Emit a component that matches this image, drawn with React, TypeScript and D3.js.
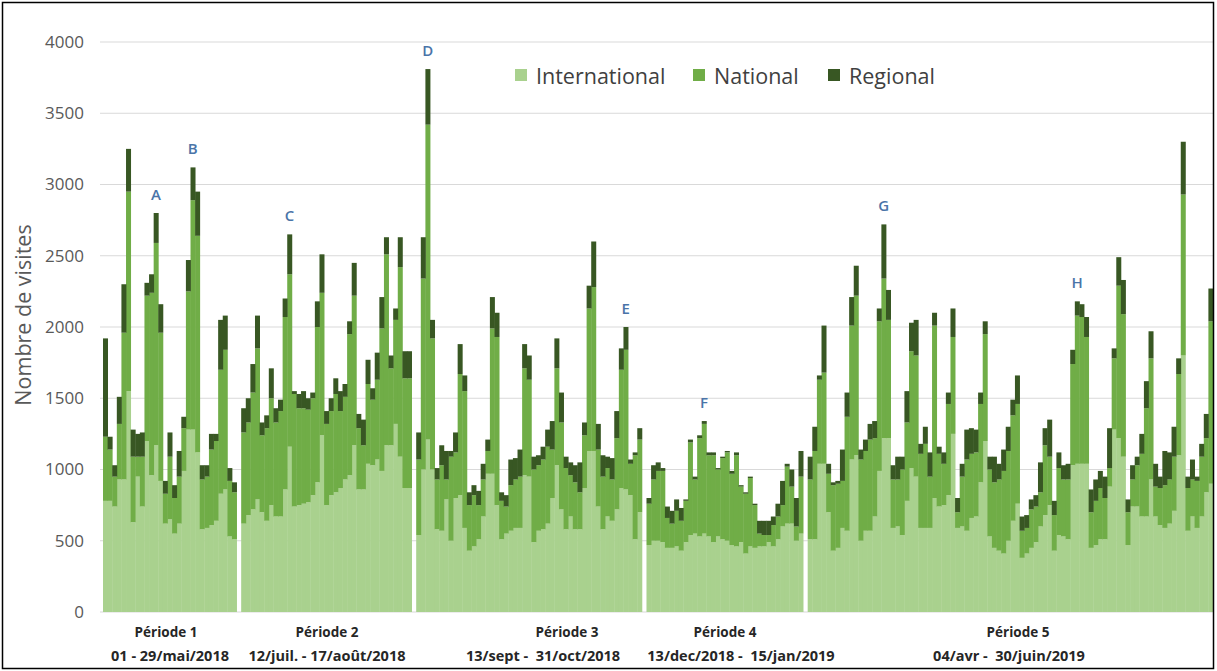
import React from "react";
import * as d3 from "d3";

interface DayRow {
  key: string;
  International: number;
  National: number;
  Regional: number;
}

const seriesNames = ["International", "National", "Regional"];
const seriesColors = ["#a9d18e", "#70ad47", "#385723"];

const periodNames = ["Période 1", "Période 2", "Période 3", "Période 4", "Période 5"];
const periodDates = [
  "01 - 29/mai/2018",
  "12/juil. - 17/août/2018",
  "13/sept -  31/oct/2018",
  "13/dec/2018 -  15/jan/2019",
  "04/avr -  30/juin/2019",
];

const yTicks = [0, 500, 1000, 1500, 2000, 2500, 3000, 3500, 4000];

// one sub-array per period, one value per day
const international = [
  [780, 780, 740, 930, 930, 1550, 630, 950, 740, 1200, 960, 1170, 920, 620, 650, 550, 620, 990, 1280, 1280, 1120, 580, 590, 610, 640, 830, 860, 530, 510],
  [620, 680, 720, 790, 700, 640, 750, 670, 670, 860, 1160, 740, 750, 760, 770, 820, 910, 1240, 750, 820, 840, 870, 930, 960, 1170, 860, 860, 1040, 1030, 1070, 990, 1170, 1170, 1320, 1090, 870, 870],
  [540, 1000, 1210, 1000, 580, 570, 790, 500, 800, 820, 590, 430, 460, 510, 670, 970, 970, 750, 510, 550, 570, 590, 590, 960, 950, 490, 570, 580, 620, 800, 1030, 720, 580, 670, 580, 580, 870, 1130, 1130, 740, 580, 670, 640, 720, 870, 860, 820, 510, 700],
  [470, 500, 500, 490, 450, 450, 460, 430, 490, 540, 550, 530, 550, 530, 490, 530, 510, 500, 470, 460, 490, 410, 460, 450, 460, 460, 490, 460, 510, 600, 620, 620, 500, 550],
  [510, 510, 1040, 1040, 700, 430, 450, 590, 570, 1070, 1100, 500, 570, 570, 670, 990, 1220, 1220, 590, 600,
   540, 780, 1010, 950, 590, 590, 590, 800, 740, 750, 820, 1250, 590, 600, 570, 660, 670, 910, 1200, 530,
   450, 430, 410, 500, 640, 760, 380, 410, 450, 490, 600, 680, 750, 430, 540, 530, 510, 1030, 1040, 1040,
   1040, 450, 470, 510, 510, 880, 1280, 1220, 1090, 470, 740, 740, 670, 670, 930, 670, 610, 590, 620, 710,
   1100, 1800, 570, 670, 590, 670, 840, 900],
];

const national = [
  [450, 360, 210, 390, 1030, 1400, 460, 140, 350, 1020, 1280, 1420, 1040, 210, 440, 250, 330, 300, 970, 1610, 1520, 350, 360, 530, 560, 870, 980, 390, 330],
  [640, 650, 820, 1060, 540, 650, 750, 660, 740, 1210, 1210, 790, 680, 670, 650, 680, 1090, 1000, 570, 590, 690, 540, 580, 990, 1050, 430, 310, 560, 460, 560, 1000, 1340, 540, 730, 1330, 770, 770],
  [530, 1340, 2210, 920, 350, 460, 140, 590, 320, 850, 960, 320, 360, 240, 260, 160, 1020, 1180, 270, 190, 320, 340, 360, 750, 680, 510, 460, 490, 540, 340, 680, 610, 430, 290, 330, 260, 370, 1000, 1150, 400, 370, 340, 290, 500, 830, 980, 220, 590, 510],
  [290, 430, 490, 500, 210, 170, 250, 210, 290, 650, 380, 690, 770, 570, 610, 470, 570, 620, 500, 640, 390, 420, 480, 300, 90, 80, 50, 150, 160, 150, 400, 260, 100, 400],
  [420, 620, 590, 640, 270, 460, 450, 330, 800, 940, 1120, 570, 560, 640, 550, 1050, 1120, 830, 340, 330,
   460, 550, 820, 850, 520, 590, 360, 1210, 370, 290, 640, 680, 110, 350, 500, 450, 450, 550, 750, 470,
   460, 500, 580, 630, 740, 700, 190, 180, 270, 250, 240, 490, 340, 250, 470, 400, 420, 710, 1040, 1030,
   890, 250, 310, 360, 290, 130, 500, 1070, 1000, 230, 190, 290, 440, 760, 850, 210, 260, 300, 310, 380,
   570, 1130, 300, 260, 330, 420, 380, 1140],
];

const regional = [
  [690, 90, 80, 190, 340, 300, 190, 160, 170, 90, 130, 210, 200, 90, 170, 90, 180, 80, 220, 230, 310, 100, 80, 110, 50, 350, 240, 90, 70],
  [170, 170, 200, 230, 90, 90, 210, 100, 80, 130, 280, 20, 100, 120, 80, 40, 180, 270, 90, 90, 110, 140, 90, 90, 230, 100, 180, 170, 80, 190, 220, 120, 90, 80, 210, 190, 190],
  [190, 290, 390, 130, 80, 140, 200, 40, 140, 210, 110, 90, 70, 100, 110, 80, 220, 170, 60, 80, 180, 150, 190, 170, 170, 90, 70, 90, 120, 200, 210, 210, 80, 90, 120, 210, 90, 160, 320, 180, 150, 80, 150, 190, 150, 160, 30, 20, 80],
  [40, 100, 60, 20, 80, 90, 80, 90, 10, 20, 20, 20, 20, 20, 20, 10, 10, 10, 20, 20, 10, 10, 10, 10, 90, 100, 100, 60, 90, 170, 20, 120, 200, 180],
  [160, 170, 30, 330, 70, 20, 20, 220, 170, 200, 210, 70, 80, 110, 120, 90, 380, 210, 100, 160,
   90, 220, 200, 250, 70, 120, 170, 90, 50, 80, 80, 200, 100, 90, 210, 180, 160, 80, 90, 90,
   180, 110, 150, 170, 110, 200, 100, 90, 70, 80, 210, 120, 260, 100, 110, 100, 110, 100, 100, 90,
   140, 160, 150, 120, 150, 280, 70, 200, 240, 90, 100, 60, 140, 190, 190, 160, 80, 240, 190, 210,
   110, 370, 80, 140, 30, 90, 170, 230],
];

// annotated peaks: letter, period index, day index
const markLetters = ["A", "B", "C", "D", "E", "F", "G", "H"];
const markPeriods = [0, 0, 1, 2, 2, 3, 4, 4];
const markDays = [11, 19, 10, 2, 45, 12, 16, 58];

const W = 1217;
const H = 671;
const FONT = "'Open Sans', 'DejaVu Sans', sans-serif";

export default function App() {
  const rows: DayRow[] = [];
  const slots: string[] = [];
  international.forEach((arr, p) => {
    if (p > 0) slots.push(`gap${p}`);
    arr.forEach((v, d) => {
      const key = `${p}-${d}`;
      slots.push(key);
      rows.push({ key, International: v, National: national[p][d], Regional: regional[p][d] });
    });
  });

  const x = d3.scaleBand<string>().domain(slots).range([103, 1213]).padding(0);
  const y = d3.scaleLinear().domain([0, 4000]).range([612, 42]);
  const bw = x.bandwidth();

  const stacked = d3.stack<DayRow>().keys(seriesNames)(rows);

  // label centres (the labels in the original aren't exactly centred on each period)
  const nameX = [166, 327, 567, 725, 1018];
  const dateX = [170, 327, 543, 741, 1009];
  const legendX = [515, 693, 828];

  return (
    <svg width={W} height={H} style={{ position: "absolute", left: 0, top: 0, background: "#fff" }}>
      <rect x={0} y={0} width={W} height={H} fill="#fff" />
      {yTicks.map((t) => (
        <g key={t}>
          <line x1={100} x2={1213} y1={y(t)} y2={y(t)} stroke="#d9d9d9" strokeWidth={1} />
          <text x={84} y={y(t)} dy="0.35em" textAnchor="end" fontFamily={FONT} fontSize={17} fill="#595959">
            {t}
          </text>
        </g>
      ))}
      <text
        transform={`translate(31,315) rotate(-90)`}
        textAnchor="middle"
        fontFamily={FONT}
        fontSize={21.5}
        fill="#595959"
      >
        Nombre de visites
      </text>

      {stacked.map((layer, i) => (
        <g key={layer.key} fill={seriesColors[i]}>
          {layer.map((d) => (
            <rect
              key={d.data.key}
              x={x(d.data.key)}
              y={y(d[1])}
              width={bw + 0.4}
              height={Math.max(0, y(d[0]) - y(d[1]))}
            />
          ))}
        </g>
      ))}

      {markLetters.map((m, i) => {
        const key = `${markPeriods[i]}-${markDays[i]}`;
        const row = rows.find((r) => r.key === key)!;
        const total = row.International + row.National + row.Regional;
        return (
          <text
            key={m}
            x={(x(key) ?? 0) + bw / 2}
            y={y(total) - 13}
            textAnchor="middle"
            fontFamily={FONT}
            fontSize={15}
            fontWeight={600}
            fill="#4a74a8"
          >
            {m}
          </text>
        );
      })}

      {seriesNames.map((s, i) => (
        <g key={s}>
          <rect x={legendX[i]} y={69} width={12} height={12} fill={seriesColors[i]} />
          <text x={legendX[i] + 21} y={84} fontFamily={FONT} fontSize={21.5} fill="#404040">
            {s}
          </text>
        </g>
      ))}

      {periodNames.map((n, i) => (
        <g key={n} fontFamily={FONT} fontWeight={700} fill="#262626" textAnchor="middle">
          <text x={nameX[i]} y={637} fontSize={13.5}>{n}</text>
          <text x={dateX[i]} y={661} fontSize={14.5} xmlSpace="preserve">{periodDates[i]}</text>
        </g>
      ))}

      <rect x={2.5} y={2.5} width={1211} height={666} fill="none" stroke="#000" strokeWidth={1.5} />
    </svg>
  );
}
